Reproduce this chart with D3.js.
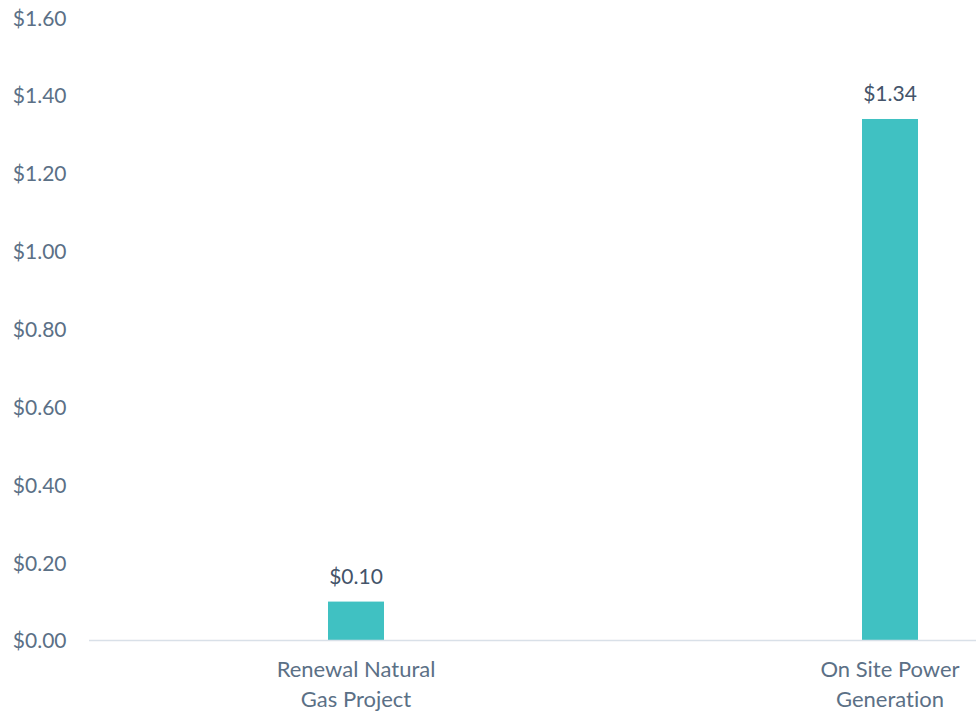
<!DOCTYPE html>
<html>
<head>
<meta charset="utf-8">
<script src="https://cdn.jsdelivr.net/npm/d3@7"></script>
<style>
    body { margin: 0; background: #fff; }
    svg text { font-family: Lato, "Open Sans", sans-serif; font-variant-ligatures: none; }
</style>
</head>
<body>
<div id="chart"></div>
<script>
var categories = [['Renewal Natural', 'Gas Project'], ['On Site Power', 'Generation']]
var values = [0.10, 1.34]
var yTicks = [0, 0.2, 0.4, 0.6, 0.8, 1.0, 1.2, 1.4, 1.6]

var width = 976
var height = 714

var svg = d3.select('#chart').append('svg')
    .attr('width', width)
    .attr('height', height)

// the plot runs off the right edge in the reference, so the band range goes past the width
var x = d3.scaleBand()
    .domain(d3.range(categories.length))
    .range([89, 1157])

var y = d3.scaleLinear()
    .domain([0, 1.6])
    .range([640.5, 17.8])

var fmt = function(d) { return '$' + d3.format('.2f')(d) }

var yAxis = svg.append('g')
    .attr('transform', 'translate(66.5,0)')
    .call(d3.axisLeft(y).tickValues(yTicks).tickFormat(fmt).tickSize(0).tickPadding(0))
yAxis.select('.domain').remove()
yAxis.selectAll('text')
    .attr('fill', '#5b7086')
    .style('font-size', '21px')
    .attr('dy', '0.35em')

var barW = 56
svg.selectAll('rect.bar')
    .data(values)
    .enter().append('rect')
    .attr('class', 'bar')
    .attr('x', function(d, i) { return x(i) + x.bandwidth() / 2 - barW / 2 })
    .attr('y', function(d) { return y(d) })
    .attr('width', barW)
    .attr('height', function(d) { return y(0) - y(d) })
    .attr('fill', '#40c1c2')

svg.append('line')
    .attr('x1', 89).attr('x2', width)
    .attr('y1', y(0)).attr('y2', y(0))
    .attr('stroke', '#d9e0e8')
    .attr('stroke-width', 1.5)

svg.selectAll('text.value')
    .data(values)
    .enter().append('text')
    .attr('class', 'value')
    .attr('x', function(d, i) { return x(i) + x.bandwidth() / 2 })
    .attr('y', function(d) { return y(d) - 18 })
    .attr('text-anchor', 'middle')
    .attr('fill', '#44546a')
    .style('font-size', '21px')
    .text(fmt)

var catLabels = svg.selectAll('text.cat')
    .data(categories)
    .enter().append('text')
    .attr('class', 'cat')
    .attr('text-anchor', 'middle')
    .attr('fill', '#5b7086')
    .style('font-size', '22px')
catLabels.each(function(lines, i) {
    var t = d3.select(this)
    lines.forEach(function(line, j) {
        t.append('tspan')
            .attr('x', x(i) + x.bandwidth() / 2)
            .attr('y', 677 + j * 30)
            .text(line)
    })
})
</script>
</body>
</html>
